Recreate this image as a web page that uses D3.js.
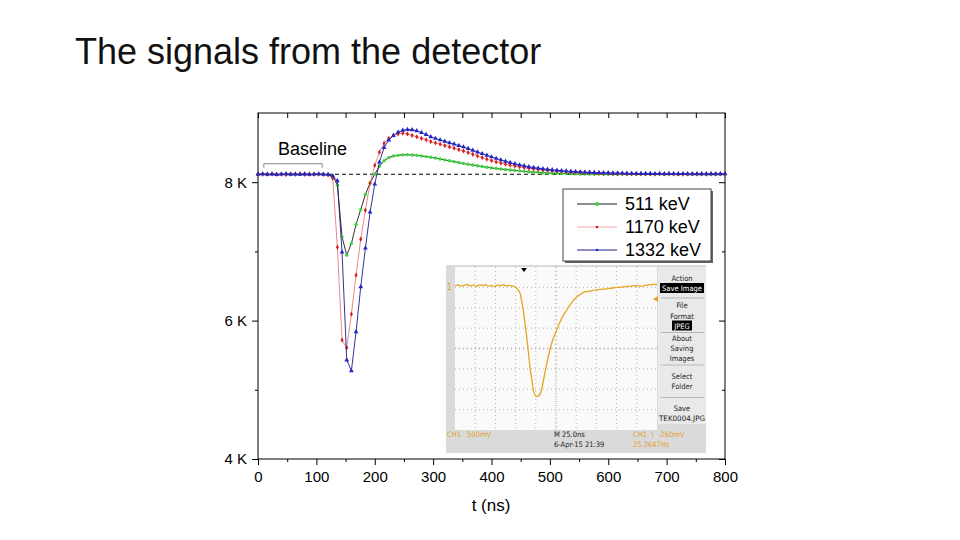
<!DOCTYPE html>
<html><head><meta charset="utf-8">
<script src="https://cdn.jsdelivr.net/npm/d3@7"></script>
<style>body{margin:0;background:#fff;} svg{display:block;}</style>
</head><body>
<script>
// ---------- DATA ----------
const timeNs = [0,8,16,24,32,40,48,56,64,72,80,88,96,104,112,120,128,136,144,152,160,168,176,184,192,200,208,216,224,232,240,248,256,264,272,280,288,296,304,312,320,328,336,344,352,360,368,376,384,392,400,408,416,424,432,440,448,456,464,472,480,488,496,504,512,520,528,536,544,552,560,568,576,584,592,600,608,616,624,632,640,648,656,664,672,680,688,696,704,712,720,728,736,744,752,760,768,776,784,792,800];
const seriesNames = ["511 keV","1170 keV","1332 keV"];
const s511 = [8114,8118,8112,8116,8110,8117,8113,8119,8112,8115,8118,8111,8116,8113,8115,
  8108,8095,7957,7210,6946,7115,7389,7606,7822,7990,8115,8231,8310,8355,8378,8388,8395,8397,8394,8388,8380,8370,8360,8349,8336,8322,8310,8297,8284,8270,8259,8248,8237,8226,8216,8207,8198,8191,8184,8177,8170,8164,8157,8150,8146,8142,8137,8133,8131,8128,8126,8124,8122,8120,8118,8117,
  8116,8115,8117,8114,8116,8115,8113,8116,8115,8117,8114,8115,8116,8113,8115,8117,8114,8116,8115,8113,8116,8115,8114,8117,8115,8113,8116,8115,8114,8116];
const s1170 = [8117,8112,8116,8120,8113,8115,8110,8118,8114,8119,8112,8116,8114,8117,8112,
  8105,8058,7061,5718,5607,6094,6657,7177,7596,7986,8245,8433,8563,8635,8679,8700,8708,8698,8676,8655,8634,8612,8588,8568,8549,8530,8511,8491,8472,8452,8428,8404,8380,8356,8333,8312,8293,8277,8261,8246,8233,8222,8211,8201,8193,8186,8179,8173,8167,8162,8157,8153,8150,8146,8144,8141,8138,8136,8133,8131,8129,8127,8125,8124,8122,8121,
  8120,8122,8119,8121,8118,8120,8119,8121,8118,8120,8117,8119,8120,8118,8119,8117,8120,8118,8119,8118];
const s1332 = [8115,8119,8113,8117,8111,8116,8120,8112,8117,8114,8118,8113,8116,8119,8114,
  8112,8090,8019,6989,5430,5275,5838,6488,7047,7567,7971,8290,8500,8610,8672,8722,8750,8761,8758,8742,8718,8688,8656,8632,8611,8591,8570,8550,8530,8509,8486,8460,8436,8412,8388,8365,8343,8322,8302,8283,8266,8250,8236,8223,8212,8203,8194,8186,8179,8172,8166,8160,8156,8152,8148,8145,8142,8140,8138,8136,8135,8133,8131,8130,8128,8127,8126,8125,
  8124,8125,8123,8124,8122,8124,8123,8121,8123,8122,8120,8122,8121,8120,8122,8121,8120,8121];
const baselineLevel = 8115;
const baselineRange = [10, 110];
const xTicksMajor = [0,100,200,300,400,500,600,700,800];
const xTicksMinor = [50,150,250,350,450,550,650,750];
const yTicksMajor = [4000,6000,8000];
const yTicksMinor = [5000,7000];
// oscilloscope inset trace (divisions)
const scopeX = [0,0.15,0.3,0.45,0.6,0.75,0.9,1.05,1.2,1.35,1.5,1.65,1.8,1.95,2.1,2.25,2.4,2.55,2.7,2.85,3.0,
  3.1,3.22,3.3,3.38,3.46,3.55,3.63,3.71,3.8,3.88,3.96,4.04,4.12,4.21,4.3,4.4,4.54,4.7,4.85,5.03,5.2,5.35,5.53,5.7,5.85,6.02,6.2,6.35,6.6,6.9,7.18,7.5,7.8,8.1,8.32,8.6,8.9,9.2,9.5,9.8,10];
const scopeY = [3.08,3.12,3.06,3.1,3.14,3.07,3.11,3.05,3.12,3.09,3.13,3.06,3.1,3.04,3.11,3.08,3.13,3.07,3.1,3.06,3.02,
  2.9,2.71,2.35,1.88,1.25,0.57,-0.15,-0.9,-1.5,-2.04,-2.28,-2.36,-2.34,-2.24,-1.95,-1.45,-0.75,-0.05,0.45,0.9,1.3,1.6,1.88,2.15,2.35,2.53,2.65,2.75,2.8,2.86,2.9,2.93,2.97,3.0,3.02,3.05,3.08,3.06,3.11,3.15,3.14];
const menuItems = [["Action",false],["Save Image",true],["File",false],["Format",false],["JPEG",true],["About",false],["Saving",false],["Images",false],["Select",false],["Folder",false],["Save",false],["TEK0004.JPG",false]];

// ---------- DRAW ----------
const FONT = "'Liberation Sans', Arial, sans-serif";
const NARROW = "'Liberation Sans Narrow', 'DejaVu Sans Condensed', 'Liberation Sans', Arial, sans-serif";
const svg = d3.select("body").append("svg").attr("width",960).attr("height",540);

svg.append("text").attr("x",75).attr("y",64).attr("font-family",FONT).attr("font-size",36)
  .attr("fill","#111").text("The signals from the detector");

const x = d3.scaleLinear().domain([0,800]).range([258,725]);
const y = d3.scaleLinear().domain([4000,9000]).range([459,113]);

function styleAxis(g, size){
  g.select(".domain").remove();
  g.selectAll("line").attr("stroke","#000");
  g.selectAll("text").attr("font-family",FONT).attr("font-size",size).attr("fill","#000");
}
svg.append("g").attr("transform","translate(0,459)")
  .call(d3.axisBottom(x).tickValues(xTicksMajor).tickSize(6).tickPadding(6).tickSizeOuter(0).tickFormat(d3.format("d")))
  .call(g=>styleAxis(g,15));
svg.append("g").attr("transform","translate(0,459)")
  .call(d3.axisBottom(x).tickValues(xTicksMinor).tickSize(3).tickSizeOuter(0).tickFormat(""))
  .call(g=>styleAxis(g,15));
svg.append("g").attr("transform","translate(0,113)")
  .call(d3.axisBottom(x).tickValues(xTicksMajor.concat(xTicksMinor)).tickSize(5).tickSizeOuter(0).tickFormat(""))
  .call(g=>styleAxis(g,15));
svg.append("g").attr("transform","translate(258,0)")
  .call(d3.axisLeft(y).tickValues(yTicksMajor).tickSize(6).tickPadding(5).tickSizeOuter(0).tickFormat(d=>(d/1000)+" K"))
  .call(g=>styleAxis(g,15));
svg.append("g").attr("transform","translate(258,0)")
  .call(d3.axisLeft(y).tickValues(yTicksMinor).tickSize(3).tickSizeOuter(0).tickFormat(""))
  .call(g=>styleAxis(g,15));
svg.append("g").attr("transform","translate(725,0)")
  .call(d3.axisLeft(y).tickValues(yTicksMajor).tickSize(6).tickSizeOuter(0).tickFormat(""))
  .call(g=>styleAxis(g,15));
svg.append("g").attr("transform","translate(725,0)")
  .call(d3.axisLeft(y).tickValues(yTicksMinor).tickSize(3).tickSizeOuter(0).tickFormat(""))
  .call(g=>styleAxis(g,15));
svg.append("rect").attr("x",x(0)).attr("y",y(9000)).attr("width",x(800)-x(0)).attr("height",y(4000)-y(9000))
  .attr("fill","none").attr("stroke","#000").attr("stroke-width",1);

svg.append("text").attr("x",491).attr("y",511).attr("text-anchor","middle").attr("font-family",FONT)
  .attr("font-size",17).text("t (ns)");

svg.append("line").attr("x1",x(0)).attr("x2",x(800)).attr("y1",y(baselineLevel)).attr("y2",y(baselineLevel))
  .attr("stroke","#000").attr("stroke-dasharray","4,3").attr("stroke-width",1);
const by = y(baselineLevel) - 10.5;
svg.append("path").attr("d",`M${x(baselineRange[0])},${by+4}V${by}H${x(baselineRange[1])}V${by+4}`)
  .attr("fill","none").attr("stroke","#888").attr("stroke-width",1);
svg.append("text").attr("x",278).attr("y",155).attr("font-family",FONT).attr("font-size",18).text("Baseline");

// ---------- INSET (oscilloscope screenshot) ----------
const ins = svg.append("g");
ins.append("rect").attr("x",446).attr("y",265).attr("width",260).attr("height",188).attr("fill","#dadada");
ins.append("rect").attr("x",455).attr("y",267).attr("width",202).attr("height",163).attr("fill","#fafafa");
ins.append("rect").attr("x",658).attr("y",267).attr("width",48).attr("height",157).attr("fill","#e9e9e9");
const sx = d3.scaleLinear().domain([0,10]).range([455,657]);
const sy = d3.scaleLinear().domain([-4,4]).range([430,267]);
ins.selectAll(".vg").data(d3.range(1,10)).join("line")
  .attr("x1",d=>sx(d)).attr("x2",d=>sx(d)).attr("y1",sy(4)).attr("y2",sy(-4))
  .attr("stroke","#b5b5b5").attr("stroke-dasharray","1,3");
ins.selectAll(".hg").data(d3.range(-3,4)).join("line")
  .attr("x1",sx(0)).attr("x2",sx(10)).attr("y1",d=>sy(d)).attr("y2",d=>sy(d))
  .attr("stroke","#b5b5b5").attr("stroke-dasharray","1,3");
ins.selectAll(".tx").data(d3.range(0,10.01,0.2)).join("line")
  .attr("x1",d=>sx(d)).attr("x2",d=>sx(d)).attr("y1",sy(0)-1.5).attr("y2",sy(0)+1.5)
  .attr("stroke","#bbb").attr("stroke-width",0.6);
ins.selectAll(".ty").data(d3.range(-4,4.01,0.2)).join("line")
  .attr("x1",sx(5)-1.5).attr("x2",sx(5)+1.5).attr("y1",d=>sy(d)).attr("y2",d=>sy(d))
  .attr("stroke","#bbb").attr("stroke-width",0.6);
const scopePts = scopeX.map((v,i)=>[v,scopeY[i]]);
ins.append("path").datum(scopePts)
  .attr("d",d3.line().x(d=>sx(d[0])).y(d=>sy(d[1])).curve(d3.curveMonotoneX))
  .attr("fill","none").attr("stroke","#e6a520").attr("stroke-width",1.3);
ins.append("path").attr("d",`M521,268L527,268L524,272Z`).attr("fill","#000");
ins.append("text").attr("x",447).attr("y",290).attr("font-family",NARROW).attr("font-size",8).attr("fill","#d89a20").text("1");
ins.append("path").attr("d",`M653,299L658,296L658,302Z`).attr("fill","#e6a520");
const menuY = [278.5,288.5,305.5,316,326,338.5,348.5,358.5,376,386,408.5,418];
menuItems.forEach((m,i)=>{
  if(m[1]){
    const w = m[0].length>5 ? 44 : 20;
    ins.append("rect").attr("x",682-w/2).attr("y",menuY[i]-5.5).attr("width",w).attr("height",10).attr("fill","#000");
  }
  const t = ins.append("text").attr("x",682).attr("y",menuY[i]+2.8).attr("text-anchor","middle")
    .attr("font-family",NARROW).attr("font-size",7.5).attr("fill",m[1]?"#fff":"#222").text(m[0]);
  if(m[0].length>=10) t.attr("textLength",m[1]?40:46).attr("lengthAdjust","spacingAndGlyphs");
});
[298,332.5,365,397.5].forEach(v=>{
  ins.append("line").attr("x1",661).attr("x2",704).attr("y1",v).attr("y2",v).attr("stroke","#a8a8a8").attr("stroke-width",0.8);
});
const bottomTexts = [[447,437,"CH1","#e0a030"],[467,437,"500mV","#e0a030"],[554,437,"M 25.0ns","#222"],
  [633,437,"CH1  \\  -260mV","#e0a030"],[554,446.5,"6-Apr-15 21:39","#222"],[633,446.5,"25.2647Hz","#e0a030"]];
bottomTexts.forEach(b=>{
  ins.append("text").attr("x",b[0]).attr("y",b[1]).attr("font-family",NARROW).attr("font-size",7.5)
    .attr("fill",b[3]).attr("xml:space","preserve").style("white-space","pre").text(b[2]);
});

// ---------- SERIES ----------
const series = [
  {name:seriesNames[0], vals:s511, line:"#1a1a1a", lw:0.9, mark:"#38d838", sym:d3.symbolCircle, size:9},
  {name:seriesNames[1], vals:s1170, line:"#e46a6a", lw:0.8, mark:"#d81e1e", sym:d3.symbolDiamond, size:8},
  {name:seriesNames[2], vals:s1332, line:"#1c1c8a", lw:0.9, mark:"#2424c8", sym:d3.symbolTriangle, size:10}
];
const lineGen = d3.line().x(d=>x(d[0])).y(d=>y(d[1]));
series.forEach(s=>{
  const pts = timeNs.map((t,i)=>[t,s.vals[i]]);
  const g = svg.append("g");
  g.append("path").datum(pts).attr("d",lineGen).attr("fill","none").attr("stroke",s.line).attr("stroke-width",s.lw);
  g.selectAll("path.m").data(pts).join("path").attr("class","m")
    .attr("transform",d=>`translate(${x(d[0])},${y(d[1])})`)
    .attr("d",d3.symbol().type(s.sym).size(s.size)).attr("fill",s.mark);
});

// ---------- LEGEND ----------
const lg = svg.append("g");
lg.append("rect").attr("x",565).attr("y",191).attr("width",148).attr("height",72).attr("fill","#666");
lg.append("rect").attr("x",563).attr("y",189).attr("width",148).attr("height",72).attr("fill","#fff").attr("stroke","#444").attr("stroke-width",1);
const legRows = [204,227,250];
const legLine = ["#1a1a1a","#f0a8a8","#1c1c8a"];
series.forEach((s,i)=>{
  lg.append("line").attr("x1",577).attr("x2",617).attr("y1",legRows[i]).attr("y2",legRows[i]).attr("stroke",legLine[i]).attr("stroke-width",1);
  lg.append("circle").attr("cx",597).attr("cy",legRows[i]).attr("r",i===0?2:1.3).attr("fill",s.mark);
  lg.append("text").attr("x",625).attr("y",legRows[i]).attr("dy","0.36em").attr("font-family",FONT).attr("font-size",18).text(s.name);
});
</script>
</body></html>
